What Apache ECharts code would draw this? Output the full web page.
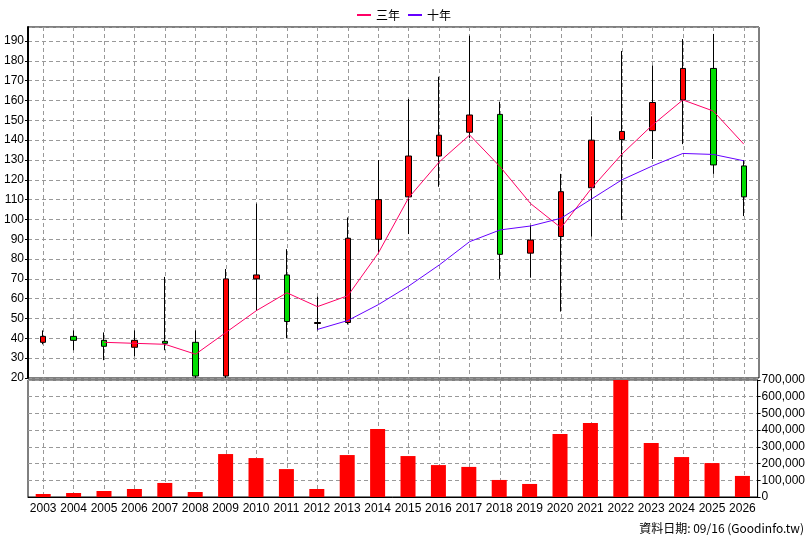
<!DOCTYPE html><html><head><meta charset="utf-8"><script src="https://cdn.jsdelivr.net/npm/echarts@6/dist/echarts.min.js"></script></head><body style="margin:0"><div id="c" style="width:808px;height:540px"></div><script>
const years=['2003','2004','2005','2006','2007','2008','2009','2010','2011','2012','2013','2014','2015','2016','2017','2018','2019','2020','2021','2022','2023','2024','2025','2026'];
const open=[38,41,39,35.5,38.5,38,21,70,72,47.5,48,90,111.4,132,144,153,83,91.4,116,140.3,144.8,160.3,176.2,127];
const close=[41,39,36,39,37.5,21,70,72,48.5,48,90.5,110,132,142.5,152.7,82.4,89.6,114,140,144.4,159,176.2,127.5,111.4];
const low=[37,34,29,31,34,20,20,54,40,44,47,83,92.6,116.5,141,70,70.6,53.5,91.3,99.7,130.5,138,123,101.7];
const high=[44,44,43,44,71,44,75,108,85,61,101,130,160.8,172,192.7,159.4,97,123,152,185,177.6,191,193.6,130];
const ma3=[null,null,38,37.5,37,32,43,54,63,56,61.5,83,111,129,142.6,126.6,108,95.8,115.7,133,147.6,160.3,154.7,138];
const ma10=[null,null,null,null,null,null,null,null,null,44.5,49,57,66.4,77,88.8,94.7,96.7,100.6,110.3,120,127,133.3,132.8,129.6];
const volume=[18000,24000,36000,48000,84000,30000,257000,233000,167000,48000,251000,407000,245000,191000,180000,102000,78000,377000,443000,700000,323000,239000,203000,126000];
const font={fontFamily:'Liberation Sans',fontSize:12,color:'#000'};
const dash={show:true,lineStyle:{type:[4,3],color:'#999'}};
const L=28,W=731,step=W/years.length;
const kdata=years.map((y,i)=>{const up=close[i]>=open[i];return {value:[open[i],close[i],low[i],high[i]],itemStyle:{color:up?'#ff0000':'#00dd00',color0:up?'#ff0000':'#00dd00',borderColor:'#000',borderColor0:'#000'}};});
const vAxis=g=>({type:'category',gridIndex:g,data:years,boundaryGap:false,axisLabel:{show:false},axisTick:{show:false},axisLine:{show:false},splitLine:{show:true,interval:0,lineStyle:{type:[4,3],color:'#999'}}});
const hY=g=>({type:'value',gridIndex:g,show:false,splitLine:{show:false}});
const ch=echarts.init(document.getElementById('c'));
ch.setOption({animation:false,
legend:{top:4,left:'center',itemWidth:14,itemHeight:2,icon:'rect',textStyle:{fontFamily:'Noto Sans CJK TC',fontSize:12,color:'#000'},data:['三年','十年']},
grid:[{left:L,top:27,width:W,height:351,show:true,borderColor:'#000',borderWidth:1},{left:L,top:380,width:W,height:117,show:true,borderColor:'#000',borderWidth:1},
{left:L+step/2,top:27,width:W-step,height:351},{left:L+step/2,top:380,width:W-step,height:117}],
xAxis:[{type:'category',gridIndex:0,data:years,boundaryGap:true,axisLabel:{show:false},axisTick:{show:false},axisLine:{show:false},splitLine:{show:false}},
{type:'category',gridIndex:1,data:years,boundaryGap:true,axisLabel:Object.assign({margin:6,interval:0},font),axisTick:{alignWithLabel:true,interval:0,lineStyle:{color:'#000'}},axisLine:{lineStyle:{color:'#000'}},splitLine:{show:false}},
vAxis(2),vAxis(3)],
yAxis:[{type:'value',gridIndex:0,min:20,max:197.1,interval:10,axisLabel:Object.assign({showMaxLabel:false,margin:4},font),axisLine:{show:true,lineStyle:{color:'#000',width:2}},axisTick:{show:true,length:3,lineStyle:{color:'#000'}},splitLine:dash},
{type:'value',gridIndex:1,position:'right',min:0,max:700000,interval:100000,axisLabel:Object.assign({margin:4,formatter:v=>v.toLocaleString('en-US')},font),axisLine:{show:true,lineStyle:{color:'#000'}},axisTick:{show:true,length:3,lineStyle:{color:'#000'}},splitLine:dash},
hY(2),hY(3)],
series:[{type:'candlestick',xAxisIndex:0,yAxisIndex:0,data:kdata,barWidth:6,z:3},
{name:'三年',type:'line',xAxisIndex:0,yAxisIndex:0,data:ma3,symbol:'none',lineStyle:{color:'#ff0066',width:1},itemStyle:{color:'#ff0066'},z:4},
{name:'十年',type:'line',xAxisIndex:0,yAxisIndex:0,data:ma10,symbol:'none',lineStyle:{color:'#6600ff',width:1},itemStyle:{color:'#6600ff'},z:4},
{type:'bar',xAxisIndex:1,yAxisIndex:1,data:volume,barWidth:15,itemStyle:{color:'#ff0000'},z:3}],
graphic:[{type:'text',right:4,bottom:6,style:{text:'資料日期: 09/16 (Goodinfo.tw)',font:'12px "Noto Sans CJK TC"',fill:'#000'}}]
});
</script></body></html>
